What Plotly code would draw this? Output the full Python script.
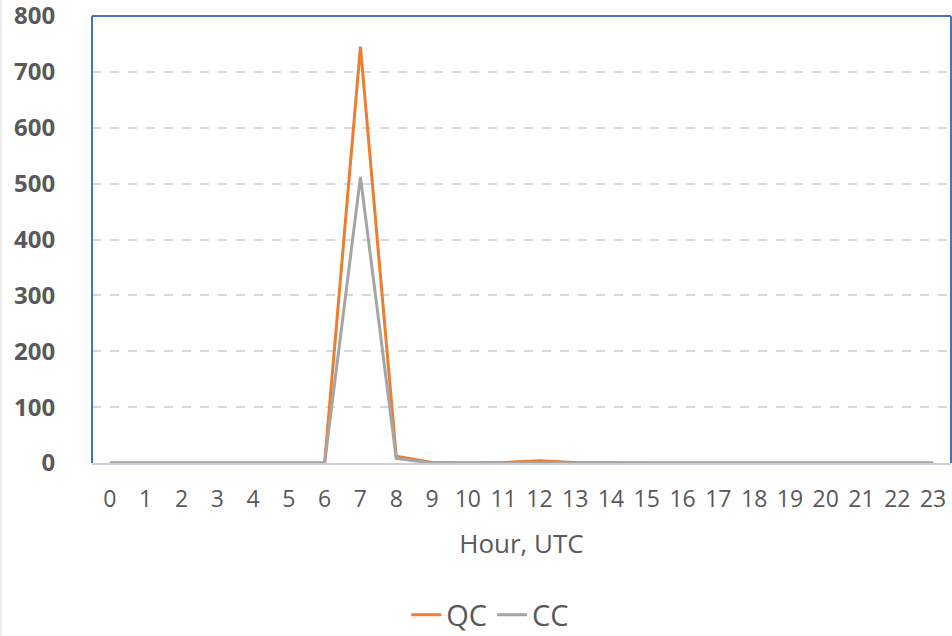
import plotly.graph_objects as go

hours = [str(h) for h in range(24)]
qc = [0, 0, 0, 0, 0, 0, 0, 745, 12, 1, 0, 1, 4, 1, 0, 0, 0, 0, 0, 0, 0, 0, 0, 0]
cc = [0, 0, 0, 0, 0, 0, 0, 512, 8, 0, 0, 0, 0, 0, 0, 0, 0, 0, 0, 0, 0, 0, 0, 0]
y_ticks = [0, 100, 200, 300, 400, 500, 600, 700, 800]

font_family = "Open Sans, Liberation Sans, sans-serif"
fig = go.Figure()
fig.add_trace(go.Scatter(x=hours, y=qc, mode="lines", name="QC",
                         line=dict(color="#ED7D31", width=3)))
fig.add_trace(go.Scatter(x=hours, y=cc, mode="lines", name="CC",
                         line=dict(color="#A5A5A5", width=3)))

H = 447.0
W = 859.0
fig.update_layout(
    width=952, height=636,
    margin=dict(l=92, r=1, t=16, b=173, autoexpand=False),
    paper_bgcolor="white", plot_bgcolor="white",
    font=dict(family=font_family, color="#595959"),
    showlegend=True,
    legend=dict(orientation="h", x=0.515, xanchor="center", xref="container",
                y=-(615 - 463) / H, yanchor="middle", yref="paper",
                font=dict(size=29, color="#595959")),
    xaxis=dict(type="category", range=[-0.5, 23.5], showgrid=False,
               showline=True, linecolor="#C9D0DD", linewidth=2,
               tickfont=dict(size=23, color="#595959"),
               ticks="outside", ticklen=14, tickcolor="rgba(0,0,0,0)",
               title=dict(text="Hour, UTC", font=dict(size=26, color="#595959"), standoff=22)),
    yaxis=dict(range=[0, 800], tickvals=y_ticks, showgrid=True,
               gridcolor="#D9D9D9", griddash="dash", gridwidth=1.5,
               zeroline=False, showline=False,
               ticks="outside", ticklen=31, tickcolor="rgba(0,0,0,0)",
               ticklabeloverflow="allow",
               tickfont=dict(size=24, color="#595959", weight="bold")),
    shapes=[
        dict(type="line", xref="paper", yref="paper", x0=0, x1=0, y0=0, y1=1,
             line=dict(color="#4472C4", width=2)),
        dict(type="line", xref="paper", yref="paper", x0=0, x1=1, y0=1, y1=1,
             line=dict(color="#4472C4", width=2)),
        dict(type="line", xref="paper", yref="paper", x0=1, x1=1, y0=0, y1=1,
             line=dict(color="#4472C4", width=2)),
        dict(type="line", xref="paper", yref="paper", x0=-91 / W, x1=-91 / W,
             y0=-173 / H, y1=1 + 16 / H, line=dict(color="#D9D9D9", width=1)),
    ],
)

fig.write_html("out.html")
